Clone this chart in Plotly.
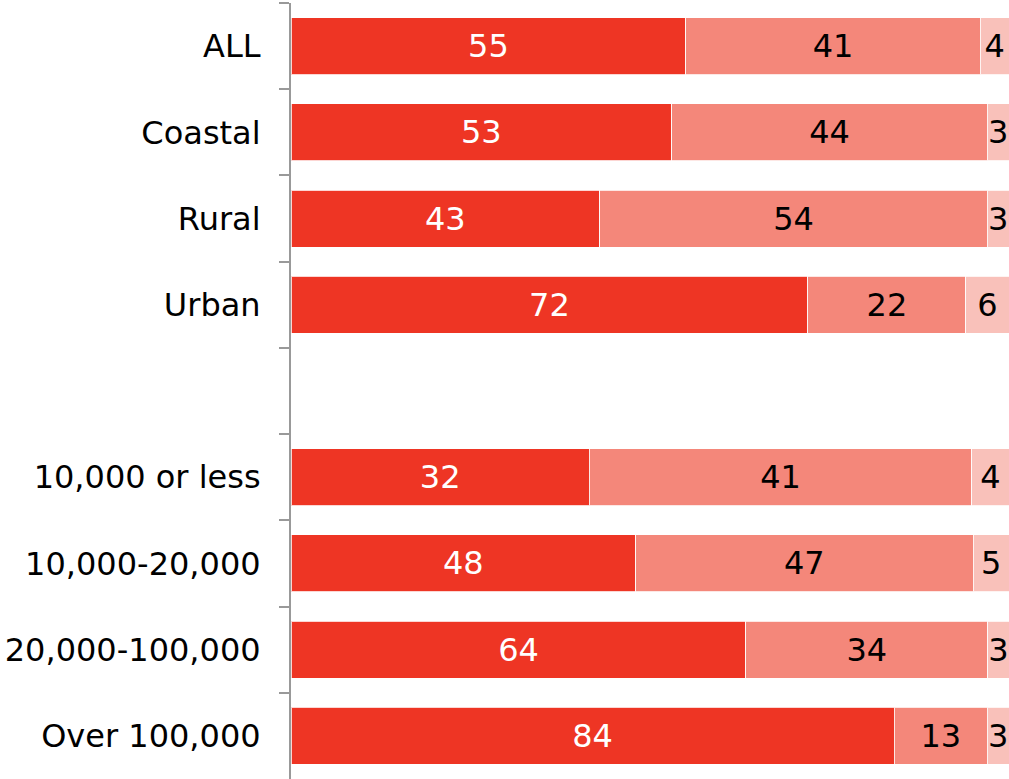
import plotly.graph_objects as go

categories = ["ALL", "Coastal", "Rural", "Urban", " ", "10,000 or less",
              "10,000-20,000", "20,000-100,000", "Over 100,000"]
series1 = [55, 53, 43, 72, None, 32, 48, 64, 84]
series2 = [41, 44, 54, 22, None, 41, 47, 34, 13]
series3 = [4, 3, 3, 6, None, 4, 5, 3, 3]

colors = ["#EE3524", "#F4877A", "#F9C1BA"]
text_colors = ["white", "black", "black"]

fig = go.Figure()
for vals, col, tcol in zip([series1, series2, series3], colors, text_colors):
    fig.add_trace(go.Bar(
        y=categories, x=vals, orientation="h",
        marker=dict(color=col, line=dict(color="rgba(255,255,255,0.8)", width=1)),
        text=[("" if v is None else str(v)) for v in vals],
        textposition="inside", insidetextanchor="middle",
        constraintext="none",
        textfont=dict(family="DejaVu Sans, Verdana", size=32, color=tcol),
        hoverinfo="skip",
    ))

fig.update_layout(
    barmode="stack", barnorm="percent", bargap=0.34,
    width=1009, height=779,
    margin=dict(l=291, r=0, t=3, b=0),
    plot_bgcolor="white", paper_bgcolor="white",
    showlegend=False,
    font=dict(family="DejaVu Sans, Verdana", size=32, color="black"),
)
fig.update_xaxes(visible=False, range=[0, 100], showgrid=False)
fig.update_yaxes(
    categoryorder="array", categoryarray=categories, autorange="reversed",
    showline=True, linecolor="#999999", linewidth=2,
    ticks="outside", tickson="boundaries", ticklen=10, tickcolor="#999999", tickwidth=2,
    tickfont=dict(family="DejaVu Sans, Verdana", size=32, color="black"),
    ticklabelstandoff=22, showgrid=False,
)

fig.write_html("out.html")
